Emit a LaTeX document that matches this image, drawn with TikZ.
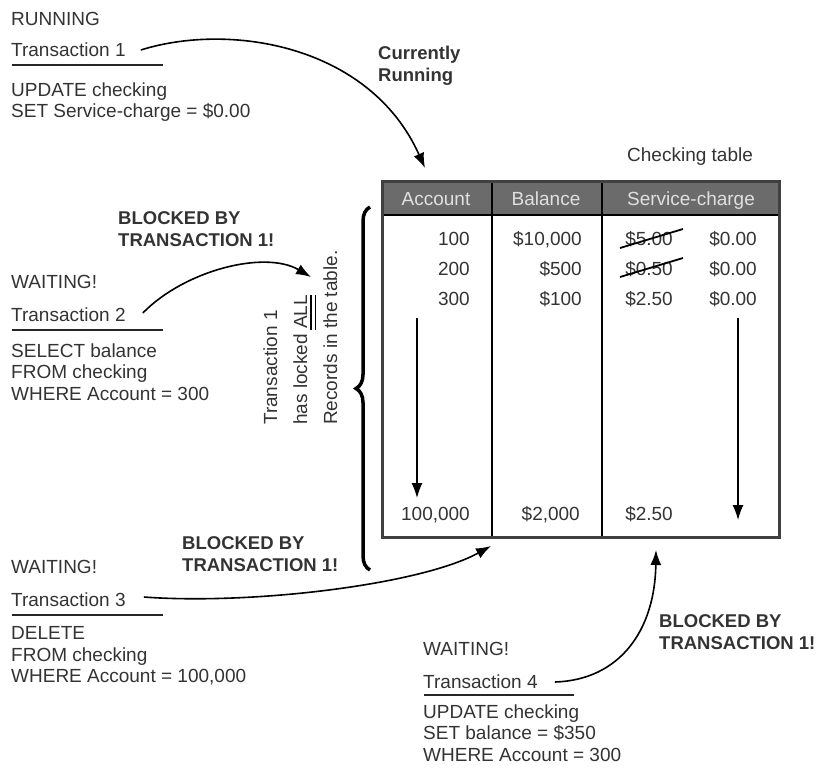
\documentclass[tikz,border=0pt]{standalone}
\usepackage{fontspec}
\setmainfont{Liberation Sans}
\usetikzlibrary{arrows.meta,decorations.pathreplacing}

\begin{document}
\begin{tikzpicture}[x=1pt,y=-1pt,
	txt/.style={anchor=base west,inner sep=0pt,text=black!80,
		font=\fontsize{19}{21.5}\selectfont},
	code/.style={txt,anchor=north west,align=left},
	bold/.style={code,font=\fontsize{18.5}{21.5}\selectfont\bfseries},
	rule/.style={line width=2.5pt,black!85},
	lockarrow/.style={line width=1.6pt,-{Latex[length=15pt,width=11pt]}},
	downarrow/.style={line width=1.4pt,-{Latex[length=15pt,width=11pt]}},
	strike/.style={line width=1.8pt,black}]

	\useasboundingbox (0,0) rectangle (817,782);

	% transaction 1
	\node[txt] (run1) at (11,25) {RUNNING};
	\node[txt] (tr1) at (11,56) {Transaction 1};
	\draw[rule] (12,65) -- (163,65);
	\node[code] (sql1) at (11,82.5) {UPDATE checking\\SET Service-charge = \$0.00};
	\node[bold] (cur) at (378,46) {Currently\\Running};

	% transaction 2
	\node[bold] (blk2) at (118,211.5) {BLOCKED BY\\TRANSACTION 1!};
	\node[txt] (wait2) at (11,288) {WAITING!};
	\node[txt] (tr2) at (11,321) {Transaction 2};
	\draw[rule] (12,330) -- (163,330);
	\node[code] (sql2) at (11,343.5) {SELECT balance\\FROM checking\\WHERE Account = 300};

	% transaction 3
	\node[bold] (blk3) at (182,536.5) {BLOCKED BY\\TRANSACTION 1!};
	\node[txt] (wait3) at (11,573) {WAITING!};
	\node[txt] (tr3) at (11,606) {Transaction 3};
	\draw[rule] (12,615) -- (163,615);
	\node[code] (sql3) at (11,626.5) {DELETE\\FROM checking\\WHERE Account = 100,000};

	% transaction 4
	\node[bold] (blk4) at (659,614.5) {BLOCKED BY\\TRANSACTION 1!};
	\node[txt] (wait4) at (423,655) {WAITING!};
	\node[txt] (tr4) at (423,688) {Transaction 4};
	\draw[rule] (424,695) -- (574,695);
	\node[code] (sql4) at (423,704.5) {UPDATE checking\\SET balance = \$350\\WHERE Account = 300};

	% the checking table
	\node[txt] (tname) at (627,161) {Checking table};
	\fill[black!58] (382,181) rectangle (779,215);
	\draw[line width=1.6pt] (382,215) -- (779,215);
	\draw[line width=2pt] (492,181) -- (492,537);
	\draw[line width=2pt] (602,181) -- (602,537);
	\draw[line width=3pt,black!75] (382,181) rectangle (779,537);

	\node[txt,anchor=base,text=black!12] (hacc) at (436,205) {Account};
	\node[txt,anchor=base,text=black!12] (hbal) at (546,205) {Balance};
	\node[txt,anchor=base,text=black!12] (hsvc) at (691,205) {Service-charge};

	\node[txt,anchor=base east] (a1) at (470,245) {100};
	\node[txt,anchor=base east] (a2) at (470,275) {200};
	\node[txt,anchor=base east] (a3) at (470,305) {300};
	\node[txt,anchor=base east] (an) at (470,520) {100,000};

	\node[txt,anchor=base east] (b1) at (582,245) {\$10,000};
	\node[txt,anchor=base east] (b2) at (582,275) {\$500};
	\node[txt,anchor=base east] (b3) at (582,305) {\$100};
	\node[txt,anchor=base east] (bn) at (580,520) {\$2,000};

	\node[txt,anchor=base east] (s1) at (673,245) {\$5.00};
	\node[txt,anchor=base east] (s2) at (673,275) {\$0.50};
	\node[txt,anchor=base east] (s3) at (673,305) {\$2.50};
	\node[txt,anchor=base east] (sn) at (673,520) {\$2.50};
	\draw[strike] (620,248) -- (683,229);
	\draw[strike] (620,277) -- (683,258);

	\node[txt,anchor=base east] (n1) at (757,245) {\$0.00};
	\node[txt,anchor=base east] (n2) at (757,275) {\$0.00};
	\node[txt,anchor=base east] (n3) at (757,305) {\$0.00};

	\coordinate (accfrom) at (417,318);
	\coordinate (accto) at (417,498);
	\coordinate (svcfrom) at (738,318);
	\coordinate (svcto) at (738,520);
	\draw[downarrow] (accfrom) -- (accto);
	\draw[downarrow] (svcfrom) -- (svcto);

	% the lock on all records
	\draw[line width=3.5pt,decorate,decoration={brace,amplitude=14pt}] (370,570) -- (370,207);
	\node[txt,rotate=90] (lock1) at (277,425) {Transaction 1};
	\node[txt,rotate=90] (lock2) at (307,425) {has locked ALL};
	\node[txt,rotate=90] (lock3) at (337,425) {Records in the table.};
	% double rule under ALL
	\draw[line width=1.3pt] (311,330) -- (311,295);
	\draw[line width=1.3pt] (315.5,330) -- (315.5,295);

	% arrows into the table
	\coordinate (c1) at (425,168);
	\coordinate (c2) at (311,277);
	\coordinate (c3) at (491,546);
	\coordinate (c4) at (656,550);
	\draw[lockarrow] ([xshift=15pt,yshift=6pt]tr1.base east) .. controls (230,22) and (370,45) .. (c1);
	\draw[lockarrow] ([xshift=17pt,yshift=8pt]tr2.base east) .. controls (185,270) and (265,250) .. (c2);
	\draw[lockarrow] ([xshift=18pt,yshift=9pt]tr3.base east) .. controls (250,605) and (420,585) .. (c3);
	\draw[lockarrow] ([xshift=17pt,yshift=6pt]tr4.base east) .. controls (620,680) and (655,630) .. (c4);

\end{tikzpicture}
\end{document}
